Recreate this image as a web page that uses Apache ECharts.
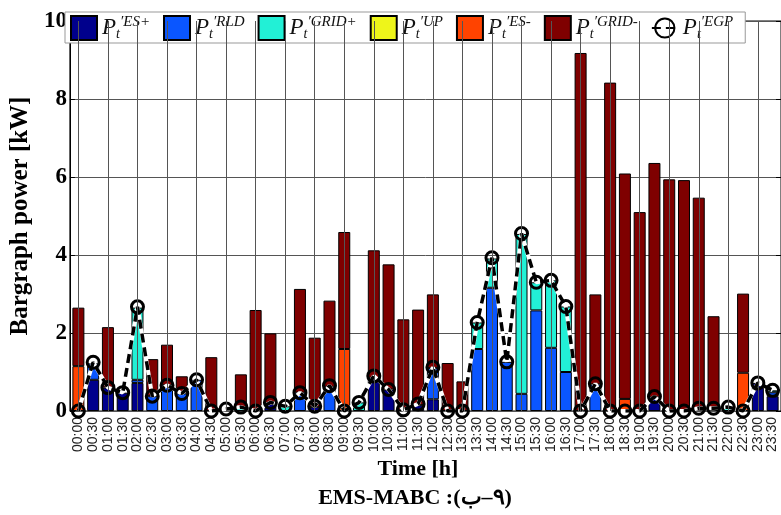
<!DOCTYPE html>
<html>
<head>
<meta charset="utf-8">
<script src="https://cdn.jsdelivr.net/npm/echarts@6/dist/echarts.min.js"></script>
<style>
html,body{margin:0;padding:0;background:#fff;}
#c{width:781px;height:515px;}
</style>
</head>
<body>
<div id="c"></div>
<script>
const categories = ['00:00','00:30','01:00','01:30','02:00','02:30','03:00','03:30','04:00','04:30',
  '05:00','05:30','06:00','06:30','07:00','07:30','08:00','08:30','09:00','09:30',
  '10:00','10:30','11:00','11:30','12:00','12:30','13:00','13:30','14:00','14:30',
  '15:00','15:30','16:00','16:30','17:00','17:30','18:00','18:30','19:00','19:30',
  '20:00','20:30','21:00','21:30','22:00','22:30','23:00','23:30'];

const esPlus  = [0,0.8,0.6,0.47,0.72,0,0,0,0,0, 0,0,0,0.2,0,0,0.1,0,0,0, 0.85,0.55,0,0.15,0.3,0,0,0,0,0, 0,0,0,0,0,0,0,0,0,0.35, 0,0,0.05,0.05,0,0,0.72,0.38];
const rld     = [0,0.42,0,0,0.08,0.38,0.66,0.45,0.8,0, 0,0,0,0,0,0.47,0,0.62,0,0, 0,0,0,0,0.8,0,0,1.59,3.16,1.26, 0.44,2.58,1.62,1.0,0,0.68,0,0,0,0, 0,0,0,0,0,0,0,0.1];
const gridPlus= [0,0,0,0,1.85,0,0,0,0,0, 0.05,0.1,0,0,0.12,0,0,0,0,0.22, 0,0,0.03,0,0,0,0,0.68,0.75,0, 4.1,0.72,1.73,1.68,0,0,0,0,0,0, 0,0,0,0,0.1,0,0,0.05];
const up      = [0,0,0,0,0,0,0,0,0,0, 0,0,0,0,0,0,0,0,0,0, 0,0,0,0,0,0,0,0,0,0, 0,0,0,0,0,0,0,0,0,0, 0,0,0,0,0,0,0,0];
const esMinus = [1.15,0,0,0,0,0,0,0,0,0, 0,0,0,0,0,0,0,0,1.59,0, 0,0,0,0,0,0,0,0,0,0, 0,0,0,0,0,0,0,0.31,0,0, 0,0,0,0,0,0.98,0,0];
const gridMinus=[1.5,0,1.55,0,0,0.95,1.04,0.44,0,1.38, 0,0.84,2.59,1.79,0,2.66,1.78,2.21,3.0,0, 3.27,3.21,2.32,2.45,1.89,1.23,0.76,0,0,0, 0,0,0,0,9.18,2.31,8.42,5.78,5.1,6.01, 5.94,5.92,5.42,2.38,0,2.03,0,0];
const egp     = [0,1.25,0.6,0.47,2.67,0.38,0.66,0.45,0.8,0, 0.05,0.1,0,0.22,0.12,0.47,0.12,0.65,0,0.22, 0.9,0.55,0.03,0.18,1.12,0,0,2.27,3.93,1.26, 4.55,3.3,3.35,2.68,0,0.7,0,0,0,0.37, 0,0,0.07,0.07,0.1,0,0.72,0.53];

const yTicks = [0,2,4,6,8,10];
const seriesNames = ['ES+','RLD','GRID+','UP','ES-','GRID-','EGP'];
const barColors = ['#00008c','#0a56ff','#22f0d6','#eef51a','#ff4300','#7f0000'];
const barData = [esPlus, rld, gridPlus, up, esMinus, gridMinus];

const chart = echarts.init(document.getElementById('c'), null, {renderer:'canvas'});

const barSeries = barData.map((arr, i) => ({
  name: seriesNames[i],
  type: 'bar',
  stack: 'total',
  xAxisIndex: 0, yAxisIndex: 0,
  barWidth: 12,
  z: 2,
  itemStyle: {color: barColors[i], borderColor: '#000', borderWidth: 1},
  data: arr.map(v => v === 0 ? '-' : v)
}));

const hourCats = categories.filter((c, i) => i % 2 === 0);

const option = {
  animation: false,
  backgroundColor: '#fff',
  grid: [
    {left: 71, right: 1, top: 21, bottom: 104},
    {left: 63, right: 0, top: 21, bottom: 104, show: true, borderColor: '#000', borderWidth: 1, backgroundColor: 'transparent'}
  ],
  legend: {
    left: 65, top: 12,
    itemWidth: 26, itemHeight: 24, itemGap: 13,
    padding: [3, 12, 2, 5],
    backgroundColor: '#fff', borderColor: '#999', borderWidth: 1,
    data: seriesNames.map((n, i) => i < 6 ? {name: n, icon: 'rect'} : {name: n}),
    formatter: name => '{p|P}{sub|t}{sup|\u2032' + name + '}',
    textStyle: {
      color: '#111',
      rich: {
        p: {fontFamily: 'Liberation Serif', fontStyle: 'italic', fontSize: 23, lineHeight: 26, verticalAlign: 'middle'},
        sub: {fontFamily: 'Liberation Serif', fontStyle: 'italic', fontSize: 14, lineHeight: 13, verticalAlign: 'bottom'},
        sup: {fontFamily: 'Liberation Serif', fontStyle: 'italic', fontSize: 15, lineHeight: 15, verticalAlign: 'top'}
      }
    }
  },
  xAxis: [
    {
      type: 'category', gridIndex: 0, data: categories, boundaryGap: true,
      axisLine: {show: false}, axisTick: {show: false},
      axisLabel: {interval: 0, rotate: 90, fontSize: 14, fontFamily: 'Liberation Sans', color: '#222', margin: 6},
      splitLine: {show: false}
    },
    {type: 'value', gridIndex: 1, show: false, min: 0, max: 1}
  ],
  yAxis: [
    {type: 'value', gridIndex: 0, min: yTicks[0], max: yTicks[yTicks.length-1], show: false, splitLine: {show: false}},
    {
      type: 'value', gridIndex: 1, position: 'left',
      min: yTicks[0], max: yTicks[yTicks.length-1], interval: yTicks[1] - yTicks[0],
      name: 'Bargraph power [kW]', nameLocation: 'middle', nameGap: 27,
      nameTextStyle: {fontFamily: 'Liberation Serif', fontWeight: 'bold', fontSize: 25, color: '#000'},
      axisLine: {show: true, lineStyle: {color: '#000'}},
      axisTick: {show: true, inside: true, length: 5, lineStyle: {color: '#000'}},
      axisLabel: {fontFamily: 'Liberation Serif', fontWeight: 'bold', fontSize: 23, color: '#000', margin: 3},
      splitLine: {show: true, lineStyle: {color: '#555', width: 1}}
    },
    {
      type: 'value', gridIndex: 1, position: 'right',
      min: yTicks[0], max: yTicks[yTicks.length-1], interval: yTicks[1] - yTicks[0],
      axisLine: {show: true, lineStyle: {color: '#000'}},
      axisTick: {show: true, inside: true, length: 5, lineStyle: {color: '#000'}},
      axisLabel: {show: false}, splitLine: {show: false}
    }
  ],
  series: [
    {
      name: 'vgrid', type: 'line', xAxisIndex: 0, yAxisIndex: 0, data: [], z: 1, silent: true,
      markLine: {
        silent: true, symbol: 'none', animation: false,
        label: {show: false},
        lineStyle: {color: '#555', width: 1, type: 'solid'},
        emphasis: {disabled: true},
        data: hourCats.map(c => ({xAxis: c}))
      }
    }
  ].concat(barSeries).concat([
    {
      name: 'egp-under', type: 'line', xAxisIndex: 0, yAxisIndex: 0,
      data: egp, symbol: 'none', silent: true, z: 3,
      lineStyle: {color: '#fff', width: 4}
    },
    {
      name: 'EGP', type: 'line', xAxisIndex: 0, yAxisIndex: 0,
      data: egp, z: 4,
      symbol: 'circle', symbolSize: 12,
      lineStyle: {color: '#000', width: 3.5, type: [9, 5]},
      itemStyle: {color: 'rgba(255,255,255,0)', borderColor: '#000', borderWidth: 3}
    }
  ]),
  graphic: [
    {type: 'text', x: 418, y: 469, style: {text: 'Time [h]', font: 'bold 22px "Liberation Serif"', fill: '#000', align: 'center', verticalAlign: 'middle'}},
    {type: 'text', x: 415, y: 498, style: {text: 'EMS-MABC :(\u202D\u0628\u2013\u06F9\u202C)', font: 'bold 22px "Liberation Serif"', fill: '#000', align: 'center', verticalAlign: 'middle'}}
  ]
};
chart.setOption(option);
</script>
</body>
</html>
